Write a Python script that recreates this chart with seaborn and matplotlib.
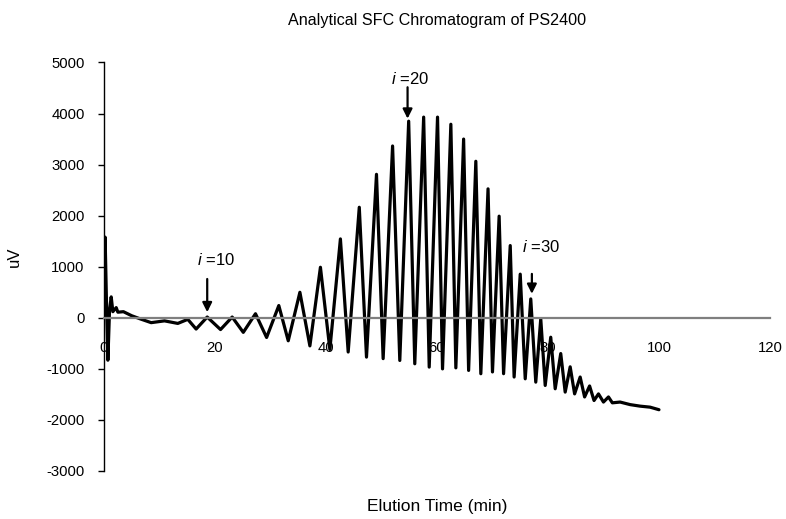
import pandas as pd
import matplotlib
matplotlib.use("Agg")
import matplotlib.pyplot as plt
import seaborn as sns

sns.set_style("white")
plt.rcParams["font.family"] = ["Liberation Sans", "DejaVu Sans"]
plt.rcParams["mathtext.fontset"] = "custom"
plt.rcParams["mathtext.it"] = "Liberation Sans:italic"
plt.rcParams["mathtext.rm"] = "Liberation Sans"
plt.rcParams["axes.unicode_minus"] = False
plt.rcParams["text.color"] = "black"
plt.rcParams["axes.labelcolor"] = "black"
plt.rcParams["xtick.labelcolor"] = "black"
plt.rcParams["ytick.labelcolor"] = "black"

# Signal (time in min, signal in uV)

start_time = [0.0, 0.2, 0.45, 0.7, 1.0, 1.3, 1.6, 2.2, 2.5, 3.5, 5.0, 6.5, 8.5, 10.9, 13.3, 15.1, 16.6]
start_uv = [0, 1580, 300, -830, 150, 410, 120, 200, 110, 120, 40, -20, -95, -60, -110, -30, -220]

peak_time = [18.6, 23.1, 27.3, 31.5, 35.3, 39.0, 42.6, 46.0, 49.1, 52.0, 54.9, 57.6, 60.1,
             62.5, 64.8, 67.0, 69.2, 71.2, 73.2, 75.0, 76.9, 78.7, 80.5, 82.3, 84.0, 85.8,
             87.5, 89.1, 90.9]
peak_uv = [15, 15, 80, 240, 500, 990, 1545, 2165, 2810, 3365, 3850, 3930, 3930,
           3790, 3500, 3065, 2525, 1990, 1415, 855, 370, -20, -380, -700, -960, -1160,
           -1335, -1490, -1550]

valley_time = [21.0, 25.1, 29.3, 33.2, 37.1, 40.7, 44.0, 47.3, 50.3, 53.3, 56.0, 58.6, 61.0,
               63.4, 65.7, 67.9, 70.0, 72.0, 73.9, 75.9, 77.8, 79.5, 81.3, 83.1, 84.8, 86.6,
               88.3, 90.0, 91.6]
valley_uv = [-230, -285, -385, -450, -550, -620, -670, -770, -800, -835, -900, -965, -1000,
             -980, -1030, -1095, -1060, -1095, -1160, -1195, -1260, -1325, -1390, -1455, -1490, -1550,
             -1620, -1650, -1665]

tail_time = [93.0, 94.8, 96.6, 98.4, 100.0]
tail_uv = [-1650, -1700, -1730, -1750, -1800]

x_ticks = [0, 20, 40, 60, 80, 100, 120]
y_ticks = [-3000, -2000, -1000, 0, 1000, 2000, 3000, 4000, 5000]

# annotated peaks: label, time, arrow tail, arrow tip, label position
marks = ["10", "20", "30"]
mark_time = [18.6, 54.7, 77.1]
mark_from = [760, 4515, 860]
mark_to = [110, 3900, 470]
label_time = [20.1, 55.1, 78.7]
label_uv = [1135, 4680, 1390]

df = pd.DataFrame({
    "time": start_time + peak_time + valley_time + tail_time,
    "uv": start_uv + peak_uv + valley_uv + tail_uv,
}).sort_values("time")

fig = plt.figure(figsize=(7.86, 5.19), dpi=100)
ax = fig.add_axes([0.1323, 0.0925, 0.8473, 0.7871])

sns.lineplot(data=df, x="time", y="uv", color="black", lw=2.3, estimator=None, sort=False, ax=ax)

for m, t, y0, y1, lt, ly in zip(marks, mark_time, mark_from, mark_to, label_time, label_uv):
    ax.annotate("", xy=(t, y1), xytext=(t, y0),
                arrowprops=dict(arrowstyle="-|>", color="black", lw=1.6, mutation_scale=14,
                                shrinkA=0, shrinkB=0))
    ax.text(lt, ly, "$i$ =" + m, ha="center", va="center", fontsize=12, color="black")

ax.set_xlim(0, 120)
ax.set_ylim(-3000, 5000)
ax.set_xticks(x_ticks)
ax.set_yticks(y_ticks)

ax.spines["top"].set_visible(False)
ax.spines["right"].set_visible(False)
ax.spines["left"].set_color("black")
ax.spines["left"].set_linewidth(1)
ax.spines["bottom"].set_position(("data", 0))
ax.spines["bottom"].set_color("#7f7f7f")
ax.spines["bottom"].set_linewidth(1.6)

ax.tick_params(axis="x", direction="in", length=4, width=1, color="#7f7f7f", pad=16.5,
               labelsize=10.7, labelcolor="black")
ax.tick_params(axis="y", direction="out", length=4, width=1, color="black", pad=10,
               labelsize=10.7, labelcolor="black", left=True)

ax.set_xlabel("Elution Time (min)", fontsize=12.5, color="black")
ax.set_ylabel("uV", fontsize=12, color="black")
ax.xaxis.set_label_coords(0.5, -0.088)
ax.xaxis.label.set_va("center")
ax.yaxis.set_label_coords(-0.135, 0.524)
ax.yaxis.label.set_va("center")

fig.text(437 / 786, 1 - 21 / 519, "Analytical SFC Chromatogram of PS2400",
         ha="center", va="center", fontsize=11.6, color="black")

fig.savefig("out.png", dpi=100)
